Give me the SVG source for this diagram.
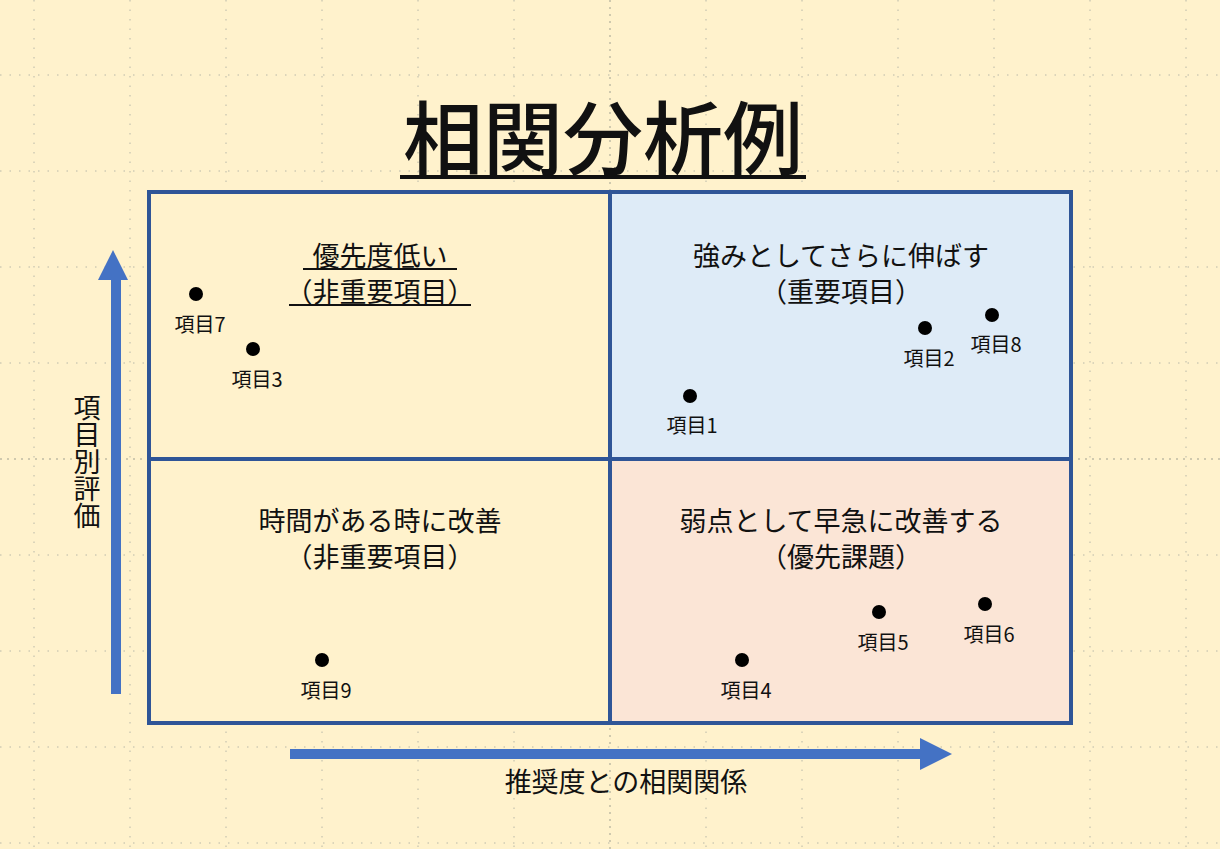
<svg xmlns="http://www.w3.org/2000/svg" width="1220" height="849" viewBox="0 0 1220 849">
<style>
.g{stroke:#b8b8a8;stroke-width:1;stroke-dasharray:1.5 8}
.q{font-family:"Noto Sans CJK JP","Noto Sans",sans-serif;font-size:27px;fill:#111;text-anchor:middle}
.l{font-family:"Noto Sans CJK JP","Noto Sans",sans-serif;font-size:20px;fill:#111;text-anchor:middle}
.d{fill:#000}
</style>
<rect width="1220" height="849" fill="#fff2cc"/>
<g id="grid">
<path class="g" d="M34 0V849M130 0V849M226 0V849M322 0V849M418 0V849M514 0V849M706 0V849M802 0V849M898 0V849M994 0V849M1090 0V849M1186 0V849M0 75H1220M0 171H1220M0 267H1220M0 363H1220M0 555H1220M0 651H1220M0 747H1220M0 843H1220"/>
<path d="M610 0V849M0 459H1220" stroke="#a0a090" stroke-width="1" stroke-dasharray="2 5"/>
</g>
<g id="title"><text x="603" y="168" font-family="'Noto Sans CJK JP',sans-serif" font-size="80" font-weight="500" text-anchor="middle" fill="#111">相関分析例</text>
<rect x="400" y="175" width="406" height="4" fill="#111"/></g>
<g id="q-tl"><rect x="149" y="192" width="461" height="267" fill="#fff2cc"/>
<text class="q" x="380" y="266">優先度低い</text><text class="q" x="380" y="302">（非重要項目）</text>
<rect x="303" y="268" width="154" height="2" fill="#111"/><rect x="289" y="304" width="182" height="2" fill="#111"/></g>
<g id="q-tr"><rect x="610" y="192" width="461" height="267" fill="#deebf7"/>
<text class="q" x="841" y="266">強みとしてさらに伸ばす</text><text class="q" x="841" y="302">（重要項目）</text></g>
<g id="q-bl"><rect x="149" y="459" width="461" height="264" fill="#fff2cc"/>
<text class="q" x="380" y="531">時間がある時に改善</text><text class="q" x="380" y="567">（非重要項目）</text></g>
<g id="q-br"><rect x="610" y="459" width="461" height="264" fill="#fbe5d6"/>
<text class="q" x="841" y="531">弱点として早急に改善する</text><text class="q" x="841" y="567">（優先課題）</text></g>
<g id="frame" fill="none" stroke="#2f5597" stroke-width="4"><rect x="149" y="192" width="922" height="531"/><path d="M610 192V723M149 459H1071"/></g>
<g id="points">
<circle class="d" cx="196" cy="294" r="7"/><text class="l" x="200" y="332">項目7</text>
<circle class="d" cx="253" cy="349" r="7"/><text class="l" x="257" y="387">項目3</text>
<circle class="d" cx="690" cy="396" r="7"/><text class="l" x="692" y="433">項目1</text>
<circle class="d" cx="925" cy="328" r="7"/><text class="l" x="929" y="366">項目2</text>
<circle class="d" cx="992" cy="315" r="7"/><text class="l" x="996" y="352">項目8</text>
<circle class="d" cx="322" cy="660" r="7"/><text class="l" x="326" y="698">項目9</text>
<circle class="d" cx="742" cy="660" r="7"/><text class="l" x="746" y="698">項目4</text>
<circle class="d" cx="879" cy="612" r="7"/><text class="l" x="883" y="650">項目5</text>
<circle class="d" cx="985" cy="604" r="7"/><text class="l" x="989" y="642">項目6</text>
</g>
<g id="axes" fill="#4472c4">
<path d="M111 694V280H98L113 250L128 280H121V694Z"/>
<path d="M290 749H920V738L952 754L920 770V759H290Z"/>
</g>
<g id="axis-labels">
<text x="87" y="462" font-family="'Noto Sans CJK JP',sans-serif" font-size="27" fill="#111" text-anchor="middle" style="writing-mode:vertical-rl">項目別評価</text>
<text x="626" y="792" font-family="'Noto Sans CJK JP',sans-serif" font-size="27" fill="#111" text-anchor="middle">推奨度との相関関係</text>
</g>
</svg>
